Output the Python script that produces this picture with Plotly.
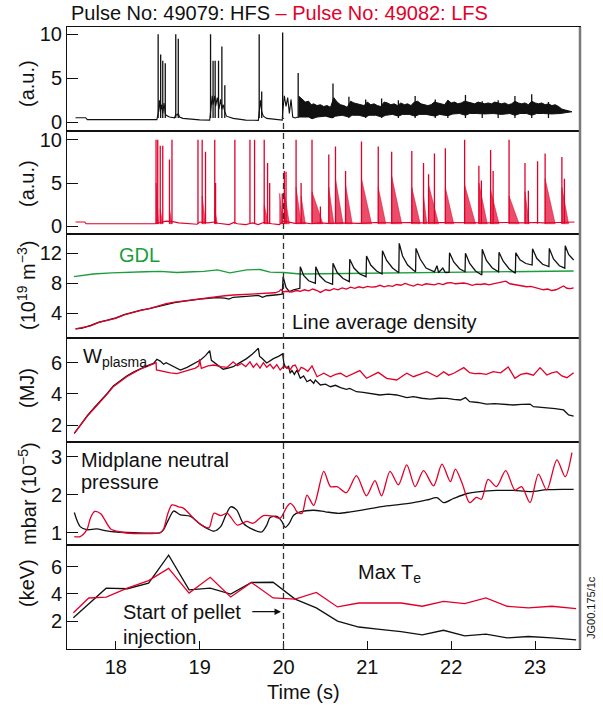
import plotly.graph_objects as go
from plotly.subplots import make_subplots

RED = '#e2002b'
BLACK = '#111111'
GREEN = '#1a9e3c'
FONT = 'Liberation Sans, Arial, Helvetica, sans-serif'

# ---------------- Panel 1: HFS (49079) D-alpha, a.u. ----------------
h_base_t = [17.52, 17.64, 17.66, 17.90, 18.20, 18.49, 18.505, 18.52, 18.53, 18.545,
            18.56, 18.575, 18.59, 18.60, 18.64, 18.70, 18.715, 18.73, 18.745, 18.76,
            18.80, 18.90, 19.00, 19.12, 19.13, 19.15, 19.16, 19.18, 19.19, 19.21,
            19.23, 19.25, 19.265, 19.28, 19.30, 19.32, 19.40, 19.55, 19.70, 19.71,
            19.725, 19.74, 19.76, 19.80, 19.90, 19.985, 19.99, 20.01, 20.03, 20.05,
            20.07, 20.09, 20.11, 20.14, 20.17]
h_base_v = [0.52, 0.52, 0.30, 0.28, 0.27, 0.30, 1.0, 2.5, 1.2, 2.0,
            1.0, 2.2, 1.0, 0.8, 0.6, 0.5, 0.9, 0.8, 1.0, 0.6,
            0.45, 0.35, 0.28, 0.25, 1.5, 3.0, 2.0, 3.0, 1.8, 2.8,
            1.5, 2.6, 1.5, 2.0, 1.2, 0.7, 0.45, 0.25, 0.22, 1.0,
            2.5, 1.2, 0.7, 0.45, 0.3, 0.25, 1.2, 3.0, 1.8, 2.8,
            1.0, 2.6, 0.6, 0.5, 0.6]
h_spk_t = [18.505, 18.535, 18.56, 18.59, 18.715, 18.745, 19.13, 19.16, 19.185, 19.225,
           19.265, 19.30, 19.71, 19.74, 19.99, 20.175, 20.59, 20.78, 20.98, 21.17,
           21.37, 21.57, 21.81, 21.96, 22.17, 22.37, 22.56, 22.76, 22.96, 23.16]
h_spk_v = [10.0, 7.7, 7.0, 6.7, 10.0, 9.5, 10.0, 7.0, 7.0, 7.0,
           8.6, 4.2, 10.0, 3.5, 10.2, 5.6, 4.4, 2.9, 2.6, 2.7,
           2.5, 3.0, 2.6, 2.5, 3.1, 2.4, 2.5, 3.0, 3.2, 2.3]
band_top_t = [20.18, 20.22, 20.26, 20.30, 20.33, 20.36, 20.40, 20.44, 20.48, 20.52,
              20.56, 20.60, 20.64, 20.68, 20.72, 20.76, 20.80, 20.84, 20.88, 20.92,
              20.96, 21.00, 21.04, 21.08, 21.12, 21.16, 21.20, 21.24, 21.28, 21.32,
              21.36, 21.40, 21.44, 21.48, 21.52, 21.56, 21.60, 21.64, 21.68, 21.72,
              21.76, 21.80, 21.84, 21.88, 21.92, 21.96, 22.00, 22.04, 22.08, 22.12,
              22.16, 22.20, 22.24, 22.28, 22.32, 22.36, 22.40, 22.44, 22.48, 22.52,
              22.56, 22.60, 22.64, 22.68, 22.72, 22.76, 22.80, 22.84, 22.88, 22.92,
              22.96, 23.00, 23.04, 23.08, 23.12, 23.16, 23.20, 23.24, 23.28, 23.32,
              23.36, 23.40, 23.44]
band_top_v = [3.0, 2.6, 2.3, 2.4, 2.0, 2.1, 1.9, 2.0, 1.8, 1.9,
              1.7, 2.8, 2.3, 2.0, 1.9, 1.7, 2.4, 2.2, 2.1, 2.0,
              1.9, 2.3, 2.0, 2.1, 1.9, 1.8, 2.3, 2.2, 2.0, 2.1,
              1.9, 2.2, 2.0, 2.1, 1.9, 2.3, 2.4, 2.1, 2.0, 1.9,
              2.0, 2.3, 2.2, 2.1, 2.0, 2.5, 2.2, 2.3, 2.1, 2.2,
              2.4, 2.3, 2.2, 2.1, 2.3, 2.2, 2.1, 2.2, 2.1, 2.3,
              2.2, 2.1, 2.2, 2.0, 2.1, 2.4, 2.2, 2.1, 2.2, 2.0,
              2.4, 2.2, 2.1, 2.2, 2.0, 2.1, 1.9, 2.0, 1.8, 1.5,
              1.4, 1.3, 1.2]
band_bot_t = [20.18, 20.30, 20.34, 20.40, 20.50, 20.58, 20.62, 20.70, 20.78, 20.82,
              20.90, 20.98, 21.02, 21.10, 21.17, 21.22, 21.30, 21.37, 21.42, 21.50,
              21.57, 21.62, 21.70, 21.81, 21.86, 21.96, 22.02, 22.10, 22.17, 22.22,
              22.30, 22.40, 22.50, 22.60, 22.70, 22.76, 22.82, 22.90, 22.96, 23.02,
              23.10, 23.20, 23.30, 23.38, 23.44]
band_bot_v = [0.6, 0.6, 0.4, 0.6, 0.7, 0.5, 0.7, 0.8, 0.6, 0.8,
              0.8, 0.6, 0.8, 0.8, 0.6, 0.8, 0.9, 0.7, 0.9, 0.9,
              0.7, 0.9, 0.9, 0.7, 0.9, 0.75, 0.95, 1.0, 0.8, 1.0,
              1.0, 0.95, 1.0, 0.9, 1.0, 0.8, 1.0, 1.0, 0.8, 1.0,
              1.0, 0.95, 1.0, 1.1, 1.2]

# ---------------- Panel 2: LFS (49082) D-alpha, a.u. ----------------
l_base_t = [17.52, 17.63, 17.645, 17.90, 18.20, 18.47, 18.60, 18.68, 18.75, 18.85,
            18.97, 19.00, 19.10, 19.17, 19.22, 19.35, 19.41, 19.45, 19.55, 19.59,
            19.63, 19.70, 19.76, 19.86, 19.95, 20.00, 20.06, 20.14, 20.25, 20.33,
            20.42, 20.53, 20.70, 20.90, 21.10, 21.28, 21.50, 21.65, 21.90, 22.15,
            22.30, 22.45, 22.65, 22.85, 23.00, 23.10, 23.30, 23.47]
l_base_v = [0.50, 0.50, 0.30, 0.28, 0.30, 0.30, 0.60, 0.55, 0.40, 0.30,
            0.25, 0.50, 0.40, 0.50, 0.35, 0.20, 0.45, 0.30, 0.20, 0.30,
            0.40, 0.20, 0.45, 0.30, 0.20, 0.60, 0.50, 0.35, 0.40, 0.30,
            0.40, 0.35, 0.40, 0.35, 0.45, 0.40, 0.45, 0.40, 0.45, 0.40,
            0.45, 0.40, 0.45, 0.40, 0.45, 0.40, 0.45, 0.50]
l_spk_t = [18.48, 18.50, 18.53, 18.56, 18.64, 18.67, 18.98, 19.03, 19.07, 19.18,
           19.19, 19.42, 19.60, 19.655, 19.77, 19.81, 19.835, 19.985, 20.01, 20.03,
           20.15, 20.21, 20.34, 20.44, 20.54, 20.62, 20.74, 20.93, 21.13, 21.29,
           21.53, 21.67, 21.73, 21.80, 21.93, 22.16, 22.33, 22.36, 22.47, 22.50,
           22.69, 22.88, 22.92, 23.03, 23.12, 23.32, 23.35]
l_spk_v = [10.0, 10.0, 9.3, 9.3, 7.7, 10.0, 10.0, 10.0, 8.6, 10.0,
           5.0, 10.0, 10.0, 10.0, 10.0, 7.3, 5.0, 3.8, 6.4, 6.3,
           10.0, 5.0, 10.0, 2.3, 8.3, 9.2, 6.4, 9.8, 9.2, 8.6,
           8.7, 7.3, 6.0, 8.4, 9.0, 10.0, 7.0, 5.3, 8.8, 6.4,
           10.0, 7.3, 4.1, 7.5, 8.4, 8.0, 5.5]
l_bst_t = [18.48, 18.53, 18.64, 19.03, 19.18, 19.77, 19.955, 20.01, 20.15, 20.21,
           20.34, 20.54, 20.62, 20.74, 20.93, 21.13, 21.29, 21.53, 21.67, 21.73,
           21.93, 22.16, 22.33, 22.47, 22.69, 22.88, 23.12, 23.32]
l_bst_top = [5.0, 2.0, 2.0, 3.5, 2.0, 2.5, 3.8, 4.0, 4.5, 3.5,
             4.0, 4.5, 5.5, 4.8, 5.5, 4.5, 5.8, 4.5, 3.5, 4.8,
             4.5, 4.8, 5.0, 4.2, 3.5, 4.0, 5.5, 4.5]
l_bst_len = [0.03, 0.03, 0.03, 0.04, 0.03, 0.05, 0.035, 0.06, 0.06, 0.05,
             0.13, 0.06, 0.09, 0.08, 0.12, 0.09, 0.12, 0.10, 0.04, 0.12,
             0.10, 0.13, 0.10, 0.10, 0.12, 0.05, 0.12, 0.08]

# ---------------- Panel 3: density (1e19 m^-3) ----------------
gdl_t = [17.50, 17.73, 17.95, 18.13, 18.35, 18.53, 18.73, 18.92, 19.05, 19.21,
         19.36, 19.56, 19.72, 19.84, 20.00, 20.20, 20.56, 20.75, 21.10, 21.55,
         22.00, 22.34, 22.90, 23.46]
gdl_v = [8.84, 9.20, 9.35, 9.45, 9.50, 9.55, 9.40, 9.50, 9.55, 9.75,
         9.35, 9.75, 9.80, 9.45, 9.40, 9.20, 9.25, 9.28, 9.30, 9.40,
         9.45, 9.50, 9.55, 9.60]
d_hfs_t = [17.52, 17.60, 17.70, 17.80, 17.90, 18.00, 18.10, 18.20, 18.30, 18.40,
           18.50, 18.60, 18.70, 18.80, 18.90, 19.00, 19.10, 19.20, 19.30, 19.35,
           19.40, 19.50, 19.60, 19.70, 19.75, 19.80, 19.90, 19.985, 19.995, 20.03,
           20.07, 20.12, 20.195, 20.20, 20.24, 20.30, 20.38, 20.385, 20.43, 20.50,
           20.585, 20.59, 20.64, 20.71, 20.785, 20.79, 20.84, 20.91, 20.985, 20.99,
           21.04, 21.11, 21.175, 21.18, 21.23, 21.30, 21.375, 21.38, 21.42, 21.48,
           21.55, 21.575, 21.58, 21.63, 21.70, 21.80, 21.83, 21.85, 21.90, 21.93,
           21.975, 21.98, 22.03, 22.10, 22.165, 22.17, 22.22, 22.29, 22.365, 22.37,
           22.42, 22.49, 22.565, 22.57, 22.62, 22.69, 22.765, 22.77, 22.82, 22.89,
           22.965, 22.97, 23.02, 23.09, 23.165, 23.17, 23.22, 23.29, 23.355, 23.36,
           23.40, 23.46]
d_hfs_v = [1.90, 2.00, 2.35, 2.80, 3.05, 3.35, 3.80, 4.15, 4.40, 4.60,
           4.90, 5.20, 5.40, 5.55, 5.75, 5.85, 5.95, 6.05, 6.00, 5.85,
           6.10, 6.20, 6.25, 6.35, 6.10, 6.30, 6.40, 6.50, 8.84, 7.40,
           6.85, 7.10, 7.30, 10.18, 9.00, 8.30, 7.96, 10.18, 9.00, 8.20,
           7.82, 10.62, 9.40, 8.60, 8.18, 11.16, 10.00, 9.20, 8.84, 11.60,
           10.40, 9.60, 9.20, 12.31, 11.00, 10.00, 9.38, 13.29, 11.60, 10.40,
           9.70, 9.50, 12.62, 11.20, 10.00, 9.50, 10.30, 9.40, 9.98, 9.40,
           9.42, 12.04, 10.80, 9.90, 9.50, 11.98, 10.60, 9.60, 9.07, 12.49,
           11.00, 10.00, 9.50, 12.09, 10.90, 9.90, 9.30, 12.04, 11.10, 10.60,
           10.40, 12.58, 11.30, 10.50, 10.20, 12.62, 11.20, 10.30, 9.98, 12.98,
           11.80, 11.07]
d_lfs_t = [17.52, 17.60, 17.70, 17.80, 17.90, 18.00, 18.10, 18.20, 18.30, 18.40,
           18.50, 18.60, 18.70, 18.80, 18.90, 19.00, 19.10, 19.20, 19.30, 19.40,
           19.50, 19.60, 19.70, 19.80, 19.90, 19.95, 19.97, 20.00, 20.03, 20.10,
           20.15, 20.20, 20.25, 20.30, 20.35, 20.40, 20.44, 20.50, 20.55, 20.60,
           20.65, 20.70, 20.75, 20.80, 20.85, 20.90, 20.95, 21.00, 21.05, 21.10,
           21.15, 21.20, 21.25, 21.30, 21.35, 21.40, 21.45, 21.50, 21.55, 21.60,
           21.65, 21.70, 21.75, 21.80, 21.85, 21.90, 21.95, 22.00, 22.05, 22.10,
           22.15, 22.20, 22.25, 22.30, 22.35, 22.40, 22.45, 22.50, 22.55, 22.60,
           22.65, 22.70, 22.75, 22.80, 22.85, 22.90, 22.95, 23.00, 23.05, 23.10,
           23.15, 23.20, 23.25, 23.30, 23.34, 23.38, 23.42, 23.46]
d_lfs_v = [1.90, 2.05, 2.30, 2.75, 3.00, 3.30, 3.75, 4.10, 4.35, 4.60,
           4.95, 5.25, 5.45, 5.60, 5.80, 5.95, 6.05, 6.15, 6.30, 6.40,
           6.45, 6.50, 6.55, 6.65, 6.70, 6.90, 7.15, 6.80, 6.90, 6.80,
           7.00, 6.90, 7.10, 6.95, 7.20, 7.00, 6.75, 7.10, 7.00, 7.25,
           7.10, 7.35, 7.20, 7.45, 7.30, 7.50, 7.35, 7.55, 7.45, 7.50,
           7.70, 7.50, 7.65, 7.55, 7.80, 7.70, 7.95, 7.75, 7.60, 7.85,
           7.70, 7.90, 7.80, 7.75, 7.95, 7.80, 8.00, 8.05, 7.90, 7.95,
           8.00, 7.90, 7.70, 7.85, 7.80, 7.90, 7.75, 7.90, 8.05, 8.10,
           8.25, 7.90, 7.80, 7.70, 7.60, 7.50, 7.55, 7.40, 7.30, 7.10,
           7.20, 7.00, 7.10, 7.35, 7.60, 7.30, 7.25, 7.35]

# ---------------- Panel 4: W plasma (MJ) ----------------
w_hfs_t = [17.505, 17.58, 17.66, 17.74, 17.82, 17.90, 17.97, 18.05, 18.13, 18.21,
           18.29, 18.37, 18.45, 18.49, 18.53, 18.57, 18.60, 18.65, 18.70, 18.77,
           18.85, 18.93, 19.01, 19.07, 19.12, 19.14, 19.20, 19.28, 19.34, 19.40,
           19.48, 19.56, 19.63, 19.70, 19.715, 19.74, 19.80, 19.88, 19.94, 19.99,
           20.005, 20.02, 20.04, 20.06, 20.08, 20.10, 20.13, 20.16, 20.20, 20.24,
           20.28, 20.32, 20.36, 20.38, 20.44, 20.50, 20.56, 20.62, 20.68, 20.75,
           20.79, 20.87, 20.95, 21.05, 21.15, 21.25, 21.35, 21.47, 21.55, 21.65,
           21.75, 21.85, 21.95, 22.03, 22.11, 22.17, 22.22, 22.32, 22.42, 22.52,
           22.62, 22.74, 22.84, 22.94, 22.98, 23.06, 23.14, 23.24, 23.34, 23.40, 23.46]
w_hfs_v = [1.47, 2.05, 2.60, 3.10, 3.55, 4.05, 4.50, 4.85, 5.15, 5.40,
           5.62, 5.80, 5.95, 6.22, 6.10, 5.90, 6.00, 5.85, 5.70, 5.53,
           5.70, 5.95, 6.17, 6.45, 6.77, 6.15, 5.90, 5.58, 5.65, 5.74,
           6.00, 6.26, 6.55, 6.92, 6.40, 6.30, 5.98, 6.26, 6.40, 6.56,
           5.96, 5.75, 5.64, 5.80, 5.32, 5.50, 5.25, 5.53, 5.00, 5.15,
           4.78, 4.90, 4.68, 4.89, 4.57, 4.62, 4.46, 4.55, 4.40, 4.29,
           4.35, 4.14, 4.10, 4.00, 3.93, 3.98, 3.93, 3.76, 3.82, 3.72,
           3.67, 3.72, 3.71, 3.65, 3.61, 3.76, 3.50, 3.45, 3.35, 3.38,
           3.35, 3.29, 3.33, 3.35, 3.18, 3.15, 3.08, 3.05, 2.97, 2.65, 2.58]
w_lfs_t = [17.505, 17.58, 17.66, 17.74, 17.82, 17.90, 17.97, 18.05, 18.13, 18.21,
           18.29, 18.37, 18.45, 18.48, 18.485, 18.55, 18.65, 18.73, 18.85, 18.95,
           18.99, 19.00, 19.02, 19.10, 19.17, 19.25, 19.33, 19.40, 19.45, 19.50,
           19.55, 19.60, 19.64, 19.68, 19.72, 19.76, 19.80, 19.84, 19.88, 19.92,
           19.96, 20.00, 20.04, 20.08, 20.11, 20.14, 20.18, 20.21, 20.24, 20.29,
           20.34, 20.40, 20.48, 20.56, 20.62, 20.68, 20.75, 20.83, 20.91, 20.99,
           21.06, 21.13, 21.23, 21.35, 21.42, 21.47, 21.55, 21.63, 21.71, 21.83,
           21.91, 21.97, 22.03, 22.15, 22.22, 22.28, 22.34, 22.42, 22.50, 22.59,
           22.68, 22.76, 22.83, 22.90, 22.98, 23.06, 23.14, 23.20, 23.26, 23.32, 23.38, 23.46]
w_lfs_v = [1.47, 2.02, 2.58, 3.05, 3.50, 4.00, 4.46, 4.80, 5.10, 5.35,
           5.58, 5.75, 5.90, 6.00, 5.53, 5.45, 5.35, 5.30, 5.50, 5.65,
           5.80, 6.22, 5.64, 5.80, 5.85, 5.75, 5.70, 6.05, 5.80, 5.95,
           5.75, 6.05, 5.70, 5.95, 5.65, 6.00, 5.70, 5.90, 5.62, 5.88,
           5.53, 5.75, 5.70, 5.55, 5.80, 5.85, 5.42, 5.70, 5.64, 5.45,
           5.79, 5.10, 5.32, 5.10, 5.25, 5.32, 5.10, 5.30, 5.49, 5.00,
           5.20, 5.38, 5.00, 4.89, 5.15, 5.32, 5.10, 5.25, 5.42, 5.10,
           5.42, 5.20, 5.32, 5.68, 5.36, 5.30, 5.32, 5.25, 5.42, 5.35,
           5.72, 5.00, 5.25, 5.32, 5.20, 5.68, 5.21, 5.35, 5.42, 5.15, 5.04, 5.36]

# ---------------- Panel 5: midplane neutral pressure (mbar 1e-5) ----------------
p_hfs_t = [17.505, 17.575, 17.655, 17.77, 17.89, 18.01, 18.21, 18.40, 18.53, 18.57,
           18.63, 18.69, 18.77, 18.89, 19.01, 19.10, 19.17, 19.25, 19.31, 19.37,
           19.44, 19.52, 19.64, 19.74, 19.80, 19.84, 19.92, 19.98, 20.02, 20.07,
           20.12, 20.20, 20.36, 20.50, 20.66, 20.80, 20.95, 21.15, 21.35, 21.55,
           21.71, 21.83, 21.91, 22.03, 22.19, 22.34, 22.54, 22.74, 22.94, 23.14,
           23.34, 23.46]
p_hfs_v = [1.53, 1.16, 1.08, 1.10, 1.05, 1.02, 1.00, 0.99, 1.00, 1.08,
           1.35, 1.57, 1.47, 1.43, 1.22, 1.10, 1.04, 1.16, 1.45, 1.68,
           1.60, 1.25, 1.08, 1.02, 1.20, 1.40, 1.43, 1.30, 1.14, 1.25,
           1.46, 1.55, 1.59, 1.55, 1.51, 1.55, 1.60, 1.68, 1.73, 1.79,
           1.86, 1.92, 1.79, 1.90, 2.03, 2.08, 2.11, 2.11, 2.08, 2.13,
           2.14, 2.14]
p_lfs_t = [17.505, 17.575, 17.655, 17.70, 17.75, 17.82, 17.94, 18.06, 18.21, 18.40,
           18.53, 18.57, 18.62, 18.67, 18.75, 18.81, 18.91, 18.99, 19.11, 19.17,
           19.25, 19.33, 19.45, 19.56, 19.64, 19.76, 19.88, 19.96, 20.04, 20.08,
           20.12, 20.16, 20.22, 20.28, 20.36, 20.48, 20.56, 20.64, 20.75, 20.87,
           20.99, 21.09, 21.17, 21.27, 21.37, 21.47, 21.57, 21.67, 21.79, 21.89,
           21.99, 22.05, 22.13, 22.22, 22.30, 22.36, 22.44, 22.54, 22.65, 22.76,
           22.84, 22.94, 23.04, 23.14, 23.26, 23.36, 23.44]
p_lfs_v = [0.90, 0.90, 1.08, 1.40, 1.56, 1.50, 1.10, 1.02, 0.98, 0.98,
           1.00, 1.10, 1.50, 1.73, 1.68, 1.64, 1.42, 1.25, 1.13, 1.51,
           1.45, 1.51, 1.20, 1.30, 1.25, 1.45, 1.43, 1.38, 1.68, 1.77,
           1.70, 1.55, 1.51, 1.99, 1.72, 2.61, 2.21, 2.21, 2.05, 2.50,
           1.97, 2.37, 1.97, 2.61, 2.26, 2.78, 2.21, 2.63, 2.23, 2.80,
           2.34, 2.67, 2.30, 1.79, 1.93, 1.88, 2.40, 2.21, 2.63, 2.12,
           2.21, 1.79, 2.54, 2.12, 2.91, 2.47, 3.10]

# ---------------- Panel 6: max Te (keV) ----------------
te_hfs_t = [17.494, 17.885, 18.138, 18.391, 18.63, 18.874, 19.126, 19.37, 19.618, 19.876,
            20.138, 20.391, 20.644, 20.897, 21.149, 21.402, 21.655, 21.908, 22.161, 22.414,
            22.667, 22.92, 23.2, 23.49]
te_hfs_v = [2.24, 4.42, 4.38, 4.79, 6.85, 4.30, 4.42, 3.99, 4.84, 4.86,
            3.62, 2.97, 2.00, 1.56, 1.39, 1.22, 0.98, 1.32, 0.91, 1.03,
            0.76, 0.86, 0.76, 0.62]
te_lfs_t = [17.494, 17.678, 17.885, 18.138, 18.391, 18.63, 18.874, 19.126, 19.37, 19.618,
            19.876, 20.138, 20.391, 20.644, 20.897, 21.149, 21.402, 21.655, 21.908, 22.161,
            22.414, 22.667, 22.92, 23.2, 23.49]
te_lfs_v = [2.61, 3.70, 3.77, 4.42, 4.98, 5.88, 4.06, 5.22, 3.77, 4.84,
            3.70, 3.62, 4.11, 3.04, 3.33, 3.33, 3.33, 3.09, 3.45, 3.28,
            3.70, 3.09, 2.97, 3.09, 2.92]

# axis settings
x_range = [17.418, 23.536]
x_ticks = [18, 19, 20, 21, 22, 23]
y_ranges = [[-0.95, 10.83], [-0.92, 11.04], [0.67, 14.49], [0.94, 7.58], [0.67, 3.39], [-0.06, 7.58]]
y_ticks = [[0, 5, 10], [0, 5, 10], [4, 8, 12], [2, 4, 6], [1, 2, 3], [2, 4, 6]]
y_titles = ['(a.u.)', '(a.u.)', '(10<sup>19</sup> m<sup>\u22123</sup>)', '(MJ)',
            'mbar (10<sup>\u22125</sup>)', '(keV)']

FS = 20  # main font size


def segments(ts, vs, base):
    xs, ys = [], []
    for t, v in zip(ts, vs):
        xs += [t, t, None]
        ys += [base, v, None]
    return xs, ys


def bursts(ts, tops, lens, base):
    xs, ys = [], []
    for t, h, L in zip(ts, tops, lens):
        xs += [t, t, t + L, t, None]
        ys += [base, h, base, base, None]
    return xs, ys


fig = make_subplots(rows=6, cols=1, shared_xaxes=True, vertical_spacing=0)


def line(x, y, color, width=1.2, row=1, **kw):
    lk = kw.pop('lk', {})
    fig.add_trace(go.Scatter(x=x, y=y, mode='lines', line=dict(color=color, width=width, **lk),
                             hoverinfo='skip', **kw), row=row, col=1)


# Panel 1
line(h_base_t, h_base_v, BLACK, 1.1, row=1)
line(band_bot_t, band_bot_v, BLACK, 1.0, row=1)
line(band_top_t, band_top_v, BLACK, 1.0, row=1, fill='tonexty', fillcolor=BLACK)
sx, sy = segments(h_spk_t, h_spk_v, 0.5)
line(sx, sy, BLACK, 1.3, row=1)

# Panel 2
line(l_base_t, l_base_v, RED, 1.1, row=2)
bx, by = bursts(l_bst_t, l_bst_top, l_bst_len, 0.3)
line(bx, by, RED, 0.5, row=2, fill='toself', fillcolor='rgba(226,0,43,0.7)')
sx, sy = segments(l_spk_t, l_spk_v, 0.3)
line(sx, sy, RED, 1.3, row=2)

# Panel 3
line(gdl_t, gdl_v, GREEN, 1.3, row=3)
line(d_hfs_t, d_hfs_v, BLACK, 1.3, row=3)
line(d_lfs_t, d_lfs_v, RED, 1.3, row=3)

# Panel 4
line(w_hfs_t, w_hfs_v, BLACK, 1.3, row=4)
line(w_lfs_t, w_lfs_v, RED, 1.3, row=4)

# Panel 5
line(p_hfs_t, p_hfs_v, BLACK, 1.3, row=5, lk=dict(shape='spline', smoothing=0.8))
line(p_lfs_t, p_lfs_v, RED, 1.3, row=5, lk=dict(shape='spline', smoothing=0.8))

# Panel 6
line(te_hfs_t, te_hfs_v, BLACK, 1.3, row=6)
line(te_lfs_t, te_lfs_v, RED, 1.3, row=6)

axis_common = dict(showline=True, mirror=True, linecolor=BLACK, linewidth=1,
                   showgrid=False, zeroline=False, automargin=False)
for i in range(6):
    r = i + 1
    fig.update_yaxes(row=r, col=1, range=y_ranges[i], tickvals=y_ticks[i], ticks='inside',
                     ticklen=11, tickwidth=1, tickcolor=BLACK,
                     tickfont=dict(family=FONT, size=FS, color=BLACK), **axis_common)
    if r < 6:
        fig.update_xaxes(row=r, col=1, range=x_range, showticklabels=False, ticks='', **axis_common)
    else:
        fig.update_xaxes(row=r, col=1, range=x_range, tickvals=x_ticks, ticks='inside', ticklen=8,
                         tickwidth=1, tickcolor=BLACK,
                         tickfont=dict(family=FONT, size=FS, color=BLACK), **axis_common)

# page geometry (body margin removed by post_script below)
P_LEFT, P_RIGHT, P_TOP, P_BOT = 67, 580, 27, 649
W, H = 603, 711


def py(px):
    return 1 - (px - P_TOP) / (P_BOT - P_TOP)


def pxx(px):
    return (px - P_LEFT) / (P_RIGHT - P_LEFT)


ann = []
for txt, cy in zip(y_titles, [84, 184, 286, 388, 494, 583]):
    ann.append(dict(text=txt, xref='paper', yref='paper', x=pxx(27), y=py(cy), textangle=-90,
                    showarrow=False, xanchor='center', yanchor='middle',
                    font=dict(family=FONT, size=FS, color=BLACK)))
ann.append(dict(text='Pulse No: 49079: HFS <span style="color:%s">\u2013 Pulse No: 49082: LFS</span>' % RED,
                xref='paper', yref='paper', x=pxx(69), y=py(13), xanchor='left', yanchor='middle',
                showarrow=False, font=dict(family=FONT, size=20, color=BLACK)))
ann.append(dict(text='GDL', xref='x3', yref='y3', x=18.01, y=11.73, xanchor='left', yanchor='middle',
                showarrow=False, font=dict(family=FONT, size=FS, color=GREEN)))
ann.append(dict(text='Line average density', xref='x3', yref='y3', x=20.08, y=2.84, xanchor='left',
                yanchor='middle', showarrow=False, font=dict(family=FONT, size=FS, color=BLACK)))
ann.append(dict(text='W<sub>plasma</sub>', xref='x4', yref='y4', x=17.58, y=7.25, xanchor='left',
                yanchor='top', showarrow=False, font=dict(family=FONT, size=FS, color=BLACK)))
ann.append(dict(text='Midplane neutral', xref='x5', yref='y5', x=17.565, y=2.91, xanchor='left',
                yanchor='middle', showarrow=False, font=dict(family=FONT, size=FS, color=BLACK)))
ann.append(dict(text='pressure', xref='x5', yref='y5', x=17.565, y=2.34, xanchor='left',
                yanchor='middle', showarrow=False, font=dict(family=FONT, size=FS, color=BLACK)))
ann.append(dict(text='Max T<sub>e</sub>', xref='x6', yref='y6', x=20.86, y=5.5, xanchor='left',
                yanchor='middle', showarrow=False, font=dict(family=FONT, size=FS, color=BLACK)))
ann.append(dict(text='Start of pellet', xref='x6', yref='y6', x=18.06, y=2.69, xanchor='left',
                yanchor='middle', showarrow=False, font=dict(family=FONT, size=FS, color=BLACK)))
ann.append(dict(text='injection', xref='x6', yref='y6', x=18.06, y=0.85, xanchor='left',
                yanchor='middle', showarrow=False, font=dict(family=FONT, size=FS, color=BLACK)))
ann.append(dict(text='', xref='x6', yref='y6', x=19.97, y=2.69, ax=19.61, ay=2.69,
                axref='x6', ayref='y6', showarrow=True, arrowhead=2, arrowsize=1,
                arrowwidth=1.3, arrowcolor=BLACK))
ann.append(dict(text='Time (s)', xref='paper', yref='paper', x=pxx(303), y=py(692), xanchor='center',
                yanchor='middle', showarrow=False, font=dict(family=FONT, size=FS, color=BLACK)))
ann.append(dict(text='JG00.175/1c', xref='paper', yref='paper', x=pxx(591), y=py(608), textangle=-90,
                xanchor='center', yanchor='middle', showarrow=False,
                font=dict(family=FONT, size=11, color=BLACK)))

shapes = [
    dict(type='line', xref='x', yref='paper', x0=20, x1=20, y0=0, y1=py(118),
         line=dict(color='#333333', width=1.3, dash='6px,4px')),
    dict(type='line', xref='paper', yref='paper', x0=1, x1=1, y0=0, y1=1,
         line=dict(color='#7a7a7a', width=2.5)),
]

fig.update_layout(width=W, height=H,
                  margin=dict(l=P_LEFT, r=W - P_RIGHT, t=P_TOP, b=H - P_BOT),
                  paper_bgcolor='white', plot_bgcolor='white', showlegend=False,
                  font=dict(family=FONT, size=FS, color=BLACK),
                  annotations=ann, shapes=shapes)

fig.write_html('out.html', config={'displayModeBar': False},
               post_script="document.body.style.margin='0';document.body.style.overflow='hidden';")
